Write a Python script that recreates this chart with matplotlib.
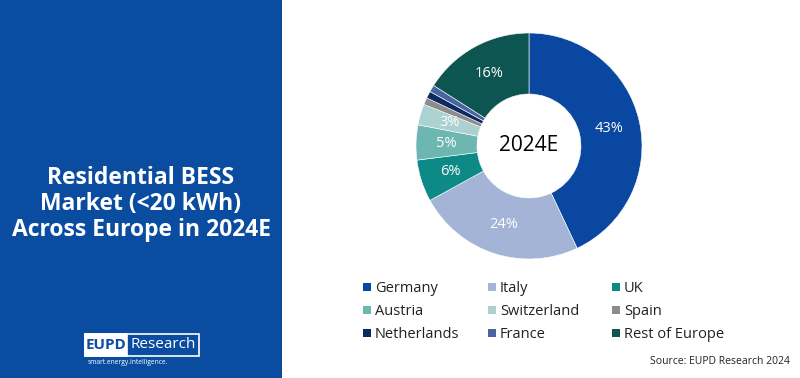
import matplotlib
matplotlib.use('Agg')
import matplotlib.pyplot as plt
from matplotlib.patches import Rectangle
import numpy as np

plt.rcParams['font.family'] = ['Open Sans', 'DejaVu Sans']

# data
countries = ['Germany', 'Italy', 'UK', 'Austria', 'Switzerland', 'Spain',
             'Netherlands', 'France', 'Rest of Europe']
shares = [43, 24, 6, 5, 3, 1, 1, 1, 16]
colors = ['#0a47a0', '#a4b4d6', '#0e8a86', '#6db6b2', '#abd2d1', '#8c8c8c',
          '#0c2a5e', '#4a64a2', '#0d5550']
panel_blue = '#0a4ca0'

W, H = 800, 378
fig = plt.figure(figsize=(8, 3.78), dpi=100)
fig.patch.set_facecolor('white')

# left blue panel
fig.patches.append(Rectangle((0, 0), 282 / W, 1, transform=fig.transFigure,
                             facecolor=panel_blue, edgecolor='none', zorder=0))
fig.text(141 / W, 1 - 204 / H, 'Residential BESS\nMarket (<20 kWh)\nAcross Europe in 2024E',
         ha='center', va='center', color='white', fontsize=16.5, fontweight='bold',
         linespacing=1.1)

# logo
fig.patches.append(Rectangle((85 / W, 1 - 356 / H), 114 / W, 22 / H, transform=fig.transFigure,
                             facecolor='none', edgecolor='white', lw=1.2, zorder=2))
fig.patches.append(Rectangle((85 / W, 1 - 356 / H), 42 / W, 22 / H, transform=fig.transFigure,
                             facecolor='white', edgecolor='white', lw=1.2, zorder=2))
fig.text(106 / W, 1 - 345 / H, 'EUPD', ha='center', va='center', color=panel_blue,
         fontsize=11, fontweight='bold', zorder=3)
fig.text(163 / W, 1 - 345 / H, 'Research', ha='center', va='center', color='white',
         fontsize=11, zorder=3)
fig.text(88 / W, 1 - 363 / H, 'smart.energy.intelligence.', ha='left', va='center',
         color='white', fontsize=4.8)

# donut
cx, cy, r = 529, 146, 113
ax = fig.add_axes([(cx - r) / W, (H - cy - r) / H, 2 * r / W, 2 * r / H])
wedges, _ = ax.pie(shares, colors=colors, startangle=90, counterclock=False,
                   radius=1, wedgeprops=dict(width=0.54, edgecolor='white', linewidth=0.4))
total = sum(shares)
cum = np.cumsum([0] + shares[:-1])
for s, c0 in zip(shares, cum):
    if s < 3:
        continue
    ang = np.deg2rad(90 - 360 * (c0 + s / 2) / total)
    ax.text(0.73 * np.cos(ang), 0.73 * np.sin(ang), f'{s}%', ha='center', va='center',
            color='white', fontsize=10.5)
ax.text(0, 0, '2024E', ha='center', va='center', color='black', fontsize=15)
ax.set_xlim(-1, 1)
ax.set_ylim(-1, 1)
ax.axis('off')

# legend (row-major, 3 columns)
col_x = [363, 488, 612]
row_y = [287, 310, 333]
for i, (name, col) in enumerate(zip(countries, colors)):
    x, y = col_x[i % 3], row_y[i // 3]
    fig.patches.append(Rectangle((x / W, (H - y - 4) / H), 8 / W, 8 / H,
                                 transform=fig.transFigure, facecolor=col, edgecolor='none'))
    fig.text((x + 12) / W, 1 - (y + 1.5) / H, name, ha='left', va='center', fontsize=10.5,
             color='#222222')

fig.text(790 / W, 1 - 361 / H, 'Source: EUPD Research 2024', ha='right', va='center',
         fontsize=7.5, color='#222222')

fig.savefig('out.png', dpi=100)
